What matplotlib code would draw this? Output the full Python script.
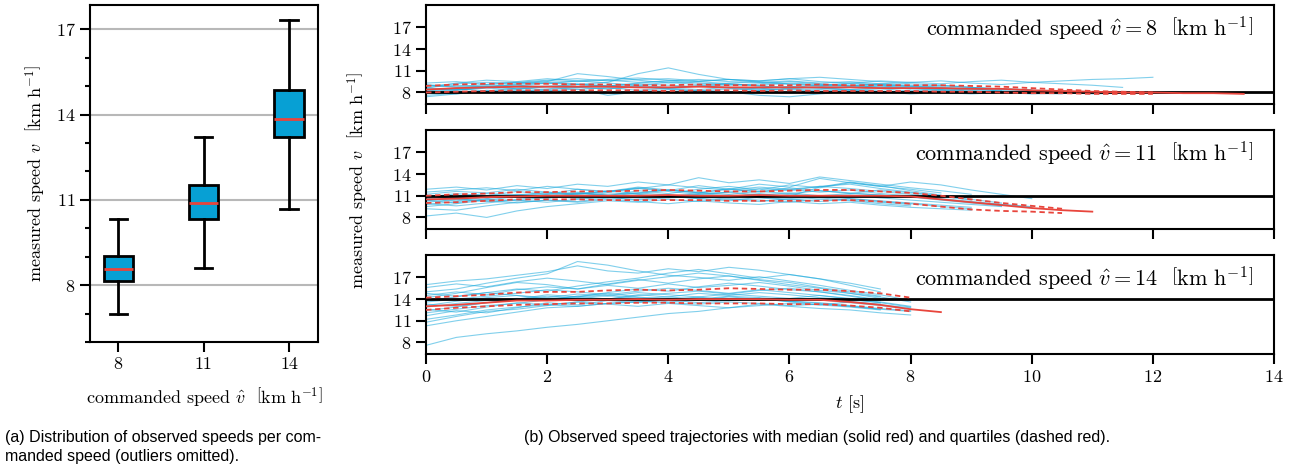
import numpy as np
import matplotlib
matplotlib.use("Agg")
from matplotlib import pyplot as plt

# box plot statistics (outliers omitted)
commanded = [8, 11, 14]
whisk_lo = [6.99, 8.61, 10.68]
q1_box = [8.13, 10.32, 13.20]
med_box = [8.58, 10.88, 13.83]
q3_box = [9.04, 11.53, 14.85]
whisk_hi = [10.33, 13.22, 17.32]

# speed trajectories, sampled every 0.5 s
DT = 0.5
traj_8 = [
    [8.9, 9.2, 9.4, 9.3, 9.6, 9.5, 9.7, 9.4, 9.6, 9.8, 9.5, 9.4, 9.6, 9.3, 9.5, 9.2, 9.4, 9.6, 9.3, 9.1, 9.4, 9.2, 9.0, 8.7],
    [8.2, 8.6, 8.9, 9.0, 8.8, 9.1, 8.9, 9.2, 9.0, 8.8, 9.1, 8.9, 8.7, 9.0, 8.8, 8.9, 8.6, 8.8, 8.7, 8.5, 8.4],
    [7.6, 7.9, 8.1, 8.3, 8.2, 8.5, 7.6, 8.1, 8.4, 8.2, 8.5, 8.3, 8.4, 8.1, 8.3, 8.2, 8.0, 8.3, 8.1],
    [9.3, 9.5, 9.1, 9.4, 9.7, 9.9, 9.6, 9.8, 9.9, 9.6, 9.8, 9.6, 9.9, 9.5, 9.3, 9.6, 9.4, 9.2, 9.5, 9.7, 9.4, 9.6, 9.8, 9.9, 10.1],
    [8.5, 8.3, 8.7, 8.9, 9.3, 9.1, 9.4, 10.6, 11.4, 10.5, 9.8, 9.4, 9.1, 8.9, 9.2, 9.0, 8.8, 8.6, 8.5, 8.3],
    [8.7, 9.0, 8.8, 9.2, 9.5, 10.6, 10.2, 9.7, 9.3, 9.5, 9.2, 9.0, 9.3, 9.1, 8.9, 9.2, 9.0, 8.7, 8.5, 8.2, 8.1, 8.0, 7.9],
    [8.0, 7.8, 8.2, 8.0, 8.3, 8.1, 7.9, 8.2, 8.0, 8.3, 8.1, 7.6, 7.4, 7.8, 8.1, 7.9, 8.2, 8.0, 7.8, 8.0, 7.9, 7.8],
    [9.0, 8.8, 9.1, 9.4, 9.2, 9.6, 9.3, 9.0, 9.4, 9.1, 9.3, 9.5, 9.2, 9.0, 9.3, 9.1, 8.9, 8.6, 8.3, 8.1],
    [8.3, 8.5, 8.2, 8.6, 8.4, 8.7, 8.5, 8.8, 8.6, 8.4, 8.7, 8.5, 8.8, 8.6, 8.3, 8.5, 8.2, 8.4, 8.1, 8.0, 7.9, 8.0, 7.8, 7.9, 8.1, 8.0],
    [7.9, 8.3, 8.6, 8.4, 8.8, 9.1, 8.8, 9.0, 8.7, 8.9, 9.2, 8.9, 8.6, 8.8, 9.0, 8.7, 8.5],
    [8.6, 9.3, 9.7, 9.5, 9.9, 9.6, 9.8, 10.0, 9.7, 9.5, 9.8, 9.6, 9.9, 10.1, 9.8, 9.5, 9.2, 9.0, 8.7, 8.4, 8.2, 8.1],
    [8.6, 8.4, 8.8, 8.6, 8.9, 8.7, 8.5, 8.8, 8.6, 8.9, 8.7, 8.5, 8.8, 8.6, 8.4, 8.7, 8.5, 8.3, 8.5, 8.2, 8.0],
    [8.1, 8.4, 8.7, 9.1, 9.4, 9.2, 8.9, 9.3, 9.6, 9.3, 9.0, 9.2, 9.5, 9.2, 8.9, 9.1, 8.8, 9.0, 8.7, 8.5, 8.3, 8.2, 8.0, 8.1],
    [9.1, 8.7, 8.9, 8.5, 8.8, 8.4, 8.7, 8.3, 8.6, 8.9, 8.6, 8.3, 8.5, 8.2, 8.4, 8.1, 7.8, 8.0],
    [7.4, 7.8, 8.3, 8.1, 8.5, 8.8, 9.0, 8.7, 8.5, 8.2, 7.9, 8.3, 8.6, 8.4, 8.7, 8.9, 8.6, 8.4, 8.2, 8.0, 7.8, 7.9, 8.0],
]
traj_11 = [
    [10.8, 11.3, 11.0, 11.6, 11.2, 11.9, 11.5, 12.1, 11.7, 12.4, 11.9, 12.6, 12.2, 13.4, 12.8, 12.3, 12.9, 12.5, 11.8, 11.2, 10.6],
    [9.2, 9.0, 9.6, 10.1, 10.4, 10.2, 10.7, 10.5, 10.9, 10.6, 10.3, 10.8, 10.5, 10.2, 10.6, 10.3, 10.0, 9.7, 9.4],
    [11.5, 11.8, 12.1, 11.7, 12.3, 11.9, 11.6, 12.0, 12.5, 12.1, 11.8, 12.2, 11.9, 12.3, 12.0, 11.6, 11.2, 10.8],
    [8.2, 8.6, 8.0, 8.9, 9.5, 9.9, 10.3, 10.1, 10.5, 10.2, 10.6, 10.4, 10.1, 10.5, 10.3, 9.9, 9.6],
    [10.4, 10.0, 10.6, 11.1, 11.5, 11.2, 11.6, 12.2, 11.8, 11.4, 11.9, 11.5, 12.1, 11.7, 11.3, 11.8, 11.4, 11.0, 10.5, 10.0],
    [11.9, 12.2, 11.8, 12.4, 12.0, 12.6, 12.3, 12.9, 12.5, 13.5, 12.8, 13.2, 12.7, 13.6, 13.1, 12.6, 12.1, 11.7, 11.2],
    [9.8, 10.2, 10.5, 10.3, 10.8, 11.0, 10.7, 11.1, 10.9, 11.3, 11.0, 10.8, 11.2, 10.9, 11.1, 10.7, 10.4, 10.1, 9.8, 9.5],
    [10.9, 11.1, 10.7, 11.0, 11.3, 10.9, 11.4, 11.2, 10.8, 11.2, 11.5, 11.1, 11.4, 11.0, 11.3, 11.1, 10.8, 10.4, 10.0, 9.6],
    [9.5, 9.9, 10.4, 10.9, 10.6, 11.3, 11.0, 11.7, 11.3, 11.9, 12.3, 11.8, 12.5, 12.1, 12.8, 12.3, 11.9, 11.4],
    [10.1, 10.5, 10.3, 10.0, 10.4, 10.1, 10.5, 10.2, 9.9, 10.3, 10.0, 9.8, 10.2, 9.9, 10.1, 9.7, 9.4, 9.2, 9.0],
    [11.2, 11.6, 11.4, 11.9, 11.5, 11.2, 11.7, 11.3, 11.8, 11.4, 12.0, 11.6, 11.9, 11.5, 11.8, 11.3, 11.0, 10.6, 10.2, 9.8, 9.5],
    [10.6, 10.9, 11.3, 11.1, 10.8, 11.4, 11.1, 10.7, 11.0, 10.6, 10.9, 11.3, 10.9, 12.2, 12.9, 12.4, 11.7, 11.1],
    [10.3, 10.7, 11.0, 10.8, 11.2, 11.5, 11.1, 11.4, 11.8, 11.5, 11.2, 11.6, 11.3, 11.7, 11.4, 11.1, 10.9, 10.5, 10.1, 9.8, 9.4],
    [9.9, 9.6, 10.0, 10.4, 10.1, 10.5, 10.8, 10.4, 10.7, 10.9, 10.5, 10.2, 10.6, 10.9, 10.6, 10.2, 9.9, 9.5, 9.2],
    [11.0, 10.6, 10.2, 10.5, 10.9, 11.3, 11.6, 12.0, 11.6, 11.2, 11.5, 12.0, 11.7, 12.3, 12.6, 12.0, 11.5, 10.9, 10.4],
    [10.6, 10.3, 10.8, 11.2, 11.0, 10.6, 10.9, 11.4, 11.1, 10.8, 11.1, 10.7, 10.4, 10.7, 10.4, 10.1, 9.8],
]
traj_14 = [
    [7.6, 8.7, 9.2, 9.6, 10.1, 10.5, 11.0, 11.5, 12.0, 12.3, 12.8, 13.1, 13.4, 13.2, 13.6, 13.3],
    [10.3, 11.0, 11.6, 12.2, 12.8, 13.0, 13.4, 13.6, 13.9, 13.5, 13.8, 14.1, 13.7, 13.4, 13.0, 12.6, 12.3],
    [16.0, 16.5, 16.8, 17.3, 17.8, 18.6, 17.9, 17.6, 18.2, 17.8, 18.4, 18.0, 17.4, 16.8, 16.2, 15.4],
    [15.0, 15.4, 16.2, 16.9, 17.5, 19.2, 18.7, 17.9, 17.3, 17.0, 16.6, 17.1, 16.5, 15.9, 15.2, 14.6, 13.8],
    [13.8, 14.3, 14.9, 15.4, 15.1, 15.8, 16.4, 16.9, 17.6, 18.1, 17.5, 16.9, 17.4, 16.8, 15.9, 15.0],
    [12.9, 13.4, 13.8, 14.1, 13.9, 14.2, 14.5, 14.1, 14.3, 14.0, 14.4, 14.2, 13.9, 14.1, 13.7, 13.2, 12.8],
    [11.2, 11.8, 12.5, 12.9, 13.2, 13.0, 13.4, 13.7, 13.5, 13.3, 13.6, 13.4, 13.1, 13.3, 13.0, 12.6],
    [14.5, 15.0, 14.6, 15.3, 15.7, 15.4, 15.9, 15.5, 16.1, 15.6, 15.9, 16.3, 15.8, 15.2, 14.8, 14.3, 13.6],
    [12.1, 12.6, 13.1, 13.4, 13.9, 14.4, 14.0, 14.6, 14.3, 14.8, 14.5, 14.9, 14.6, 14.2, 13.9, 13.5],
    [13.3, 13.0, 13.5, 13.9, 14.4, 14.1, 13.8, 14.2, 13.6, 13.9, 14.3, 14.0, 13.7, 13.5, 13.1, 12.7, 12.4],
    [10.8, 11.6, 12.3, 12.6, 13.1, 13.6, 14.0, 14.5, 14.8, 15.1, 14.7, 15.2, 15.5, 15.0, 14.4, 13.8],
    [14.2, 14.8, 15.6, 16.3, 16.0, 15.4, 16.1, 16.7, 16.2, 16.8, 17.2, 16.6, 16.0, 15.5, 14.8, 14.1],
    [12.6, 12.2, 12.9, 13.5, 13.2, 13.6, 13.3, 13.0, 13.4, 13.1, 12.8, 13.3, 13.0, 12.7, 12.5, 12.1, 11.8],
    [13.6, 14.0, 14.4, 14.8, 15.3, 15.0, 14.6, 15.1, 15.5, 15.2, 14.8, 15.3, 14.9, 14.5, 14.1, 13.6, 13.0],
    [13.1, 13.7, 14.2, 14.5, 14.2, 14.7, 14.4, 14.9, 14.6, 14.3, 14.7, 14.4, 14.1, 14.5, 14.0, 13.5, 12.9],
    [12.4, 12.9, 13.5, 14.0, 14.6, 14.3, 14.9, 15.4, 15.1, 15.7, 16.2, 15.8, 15.3, 15.0, 14.5, 13.9],
    [14.8, 14.4, 14.9, 14.5, 14.0, 14.4, 14.8, 14.3, 13.9, 14.3, 13.8, 14.1, 13.7, 13.9, 13.5, 13.1, 12.6],
    [11.7, 12.4, 12.1, 12.8, 13.5, 13.2, 13.8, 13.5, 13.9, 14.2, 13.8, 14.1, 13.6, 13.2, 12.9, 12.5],
    [15.6, 16.1, 15.7, 16.4, 16.9, 16.5, 16.0, 16.6, 17.1, 17.6, 17.2, 16.7, 16.3, 15.6, 15.0, 14.4],
]

# median and quartiles over time, 0.5 s steps
med_8 = [8.4, 8.6, 8.7, 8.8, 8.8, 8.8, 8.8, 8.7, 8.7, 8.8, 8.7, 8.7, 8.7, 8.7, 8.7, 8.6, 8.6, 8.6, 8.5, 8.5,
         8.3, 8.2, 8.1, 8.0, 8.0, 7.9, 7.9, 7.8]
q3_8 = [8.9, 9.1, 9.2, 9.2, 9.2, 9.1, 9.1, 9.0, 9.0, 9.1, 9.0, 9.0, 9.0, 9.1, 9.0, 9.0, 9.0, 9.0, 8.9, 8.8,
        8.6, 8.4, 8.2, 8.1, 8.0]
q1_8 = [8.0, 8.1, 8.2, 8.3, 8.3, 8.3, 8.3, 8.3, 8.2, 8.3, 8.3, 8.2, 8.3, 8.2, 8.2, 8.2, 8.2, 8.1, 8.1, 8.0,
        7.9, 7.9, 7.8, 7.8, 7.8]
med_11 = [10.5, 10.6, 10.8, 10.9, 11.0, 11.0, 11.0, 11.0, 11.1, 11.0, 11.0, 11.1, 11.0, 11.0, 11.0, 11.0,
          10.9, 10.5, 10.1, 9.7, 9.3, 9.0, 8.8]
q3_11 = [11.0, 11.2, 11.3, 11.5, 11.5, 11.6, 11.6, 11.7, 11.8, 11.7, 11.6, 11.6, 11.7, 11.8, 11.8, 11.6,
         11.4, 11.0, 10.5, 10.0, 9.6, 9.2]
q1_11 = [10.0, 10.1, 10.3, 10.5, 10.5, 10.5, 10.4, 10.4, 10.4, 10.4, 10.3, 10.3, 10.3, 10.3, 10.4, 10.2,
         9.9, 9.5, 9.1, 8.9, 8.8, 8.6]
med_14 = [13.0, 13.2, 13.5, 13.8, 13.8, 13.9, 13.9, 14.0, 13.9, 14.0, 14.0, 14.0, 13.9, 13.9, 13.6, 13.2,
          12.6, 12.2]
q3_14 = [14.2, 14.4, 14.6, 14.9, 15.0, 15.0, 15.2, 15.3, 15.2, 15.3, 15.5, 15.4, 15.3, 15.3, 15.1, 14.8, 14.2]
q1_14 = [12.5, 12.8, 13.0, 13.2, 13.3, 13.4, 13.4, 13.5, 13.5, 13.4, 13.4, 13.4, 13.3, 13.3, 13.1, 12.8, 12.3]

BLUE = "#07a0d4"
CYAN = "#1aa9dc"
RED = "#e8453c"

plt.rcParams["font.family"] = "serif"
plt.rcParams["font.serif"] = ["cmr10", "DejaVu Serif"]
plt.rcParams["mathtext.fontset"] = "cm"
plt.rcParams["axes.formatter.use_mathtext"] = True
plt.rcParams["font.size"] = 13

unit = r"$\left[\mathrm{km\ h^{-1}}\right]$"

fig = plt.figure(figsize=(12.95, 4.70), dpi=100)

# (a) box plot
ax = fig.add_axes([0.0695, 0.2723, 0.1761, 0.717])
stats = []
for i in range(len(commanded)):
    stats.append(dict(whislo=whisk_lo[i], q1=q1_box[i], med=med_box[i], q3=q3_box[i],
                      whishi=whisk_hi[i], fliers=[]))
ax.bxp(stats, positions=range(len(commanded)), widths=0.34, patch_artist=True, showfliers=False,
       boxprops=dict(facecolor=BLUE, edgecolor="black", linewidth=2),
       whiskerprops=dict(color="black", linewidth=2),
       capprops=dict(color="black", linewidth=2),
       medianprops=dict(color=RED, linewidth=2), capwidths=0.2)
ax.set_xticks(range(len(commanded)))
ax.set_xticklabels([str(c) for c in commanded])
ax.set_xlim(-0.33, 2.34)
ax.set_ylim(6.0, 17.85)
ax.set_yticks([8, 11, 14, 17])
ax.set_yticks(range(6, 18), minor=True)
ax.yaxis.grid(True, color="#b8b8b8", linewidth=1.5)
ax.set_axisbelow(True)
ax.tick_params(which="major", length=7, width=1.5)
ax.tick_params(which="minor", length=3.5, width=1.5)
for s in ax.spines.values():
    s.set_linewidth(1.5)
ax.set_ylabel("measured speed $v$  " + unit, labelpad=6)
ax.set_xlabel(r"commanded speed $\hat{v}$  " + unit, labelpad=10)

# (b) trajectories
bottoms = [0.7787, 0.5128, 0.2468]
all_traj = [traj_8, traj_11, traj_14]
meds = [med_8, med_11, med_14]
q1s = [q1_8, q1_11, q1_14]
q3s = [q3_8, q3_11, q3_14]
for k in range(3):
    a = fig.add_axes([0.329, bottoms[k], 0.6548, 0.2106])
    for tr in all_traj[k]:
        a.plot(np.arange(len(tr)) * DT, tr, color=CYAN, lw=0.8, alpha=0.55, zorder=1)
    a.axhline(commanded[k], color="black", lw=2, zorder=2)
    a.plot(np.arange(len(meds[k])) * DT, meds[k], color=RED, lw=1.3, zorder=3)
    a.plot(np.arange(len(q1s[k])) * DT, q1s[k], color=RED, lw=1.3, ls=(0, (3, 2)), zorder=3)
    a.plot(np.arange(len(q3s[k])) * DT, q3s[k], color=RED, lw=1.3, ls=(0, (3, 2)), zorder=3)
    a.set_xlim(0, 14)
    a.set_ylim(6.4, 20.1)
    a.set_yticks([8, 11, 14, 17])
    a.set_xticks(range(0, 15, 2))
    a.tick_params(length=7, width=1.5)
    for s in a.spines.values():
        s.set_linewidth(1.5)
    if k < 2:
        a.set_xticklabels([])
    else:
        a.set_xlabel("$t$ [s]", labelpad=6)
    a.text(0.975, 0.9, r"commanded speed $\hat{v} = %d$  " % commanded[k] + unit,
           transform=a.transAxes, ha="right", va="top", fontsize=16)

fig.text(0.276, 0.617, "measured speed $v$  " + unit, rotation=90, ha="center", va="center")

cap = dict(family="Liberation Sans", fontsize=11.5, ha="left", va="top")
fig.text(0.004, 0.085, "(a) Distribution of observed speeds per com-\nmanded speed (outliers omitted).",
         linespacing=1.3, **cap)
fig.text(0.405, 0.085, "(b) Observed speed trajectories with median (solid red) and quartiles (dashed red).",
         **cap)

fig.savefig("out.png", dpi=100)
